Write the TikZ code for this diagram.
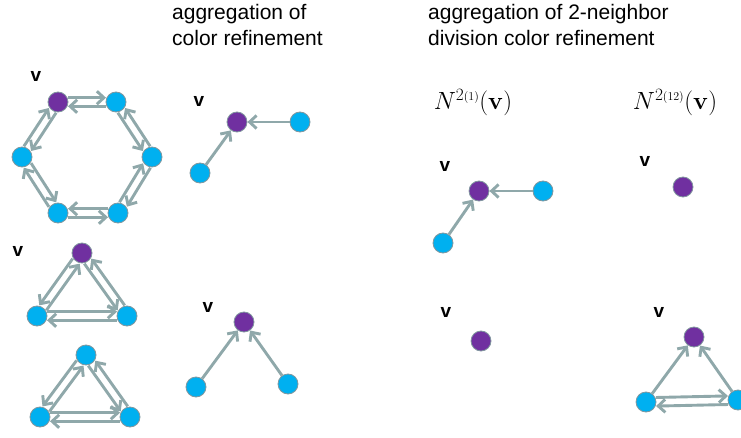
\documentclass[tikz,border=0pt]{standalone}
\usepackage[no-math]{fontspec}
\setmainfont{Liberation Sans}
\usepackage{tikz}
\usetikzlibrary{calc,arrows.meta}
\definecolor{NodeBlue}{RGB}{0,176,240}
\definecolor{NodePurple}{RGB}{112,48,160}
\definecolor{EdgeGray}{RGB}{143,168,170}
\definecolor{RimGray}{RGB}{128,150,158}
\tikzset{
  vert/.style={circle, minimum size=20pt, inner sep=0pt, draw=RimGray,
    line width=0.8pt, fill=NodeBlue},
  root/.style={vert, fill=NodePurple},
  arr/.style={draw=EdgeGray, line width=2.9pt,
    -{Straight Barb[length=7pt,width=13pt]}},
  pair/.style={arr, shorten >=10pt, shorten <=10pt},
  vlab/.style={font=\fontsize{19}{22}\selectfont\bfseries, inner sep=0pt},
  title/.style={font=\fontsize{21}{26}\selectfont, align=left,
    anchor=north west, inner sep=0pt},
  nlab/.style={font=\fontsize{23.5}{26}\selectfont, inner sep=0pt}
}
% #1 -> #2 on the side given by the sign of #3, #2 -> #1 beside it
\newcommand{\twoway}[3]{%
  \draw[pair] ($(#1)!#3!90:(#2)$) -- ($(#2)!#3!-90:(#1)$);
  \draw[pair] ($(#2)!#3!90:(#1)$) -- ($(#1)!#3!-90:(#2)$);
}

\begin{document}
\begin{tikzpicture}[x=1pt,y=1pt]
                \useasboundingbox (0,0) rectangle (741,437);
                \node[title] (t1) at (172,433) {aggregation of\\color refinement};
                \node[title] (t2) at (428,433)
                {aggregation of 2-neighbor\\division color refinement};
                % hexagon
                \node[root] (h1) at (58,335) {};
                \node[vert] (h2) at (116,335) {};
                \node[vert] (h3) at (152,280) {};
                \node[vert] (h4) at (118,224) {};
                \node[vert] (h5) at (58,224) {};
                \node[vert] (h6) at (22,280) {};
                \node[vlab] (hv) at (36,361) {v};
                \twoway{h1}{h2}{4.3pt}
                \twoway{h2}{h3}{-4.3pt}
                \twoway{h3}{h4}{4.3pt}
                \twoway{h4}{h5}{-4.3pt}
                \twoway{h6}{h5}{4.3pt}
                \twoway{h6}{h1}{4.3pt}
                % two triangles
                \node[root] (a1) at (82,184) {};
                \node[vert] (a2) at (37,121) {};
                \node[vert] (a3) at (127,121) {};
                \node[vlab] (av) at (18,186) {v};
                \twoway{a1}{a2}{-4.3pt}
                \twoway{a1}{a3}{-4.3pt}
                \twoway{a2}{a3}{4.3pt}
                \node[vert] (b1) at (86,82) {};
                \node[vert] (b2) at (40,20) {};
                \node[vert] (b3) at (130,20) {};
                \twoway{b1}{b2}{-4.3pt}
                \twoway{b1}{b3}{-4.3pt}
                \twoway{b2}{b3}{4.3pt}
                % aggregation of color refinement
                \node[root] (c1) at (237,315) {};
                \node[vert] (c2) at (300,315) {};
                \node[vert] (c3) at (200,264) {};
                \node[vlab] (cv) at (199,336) {v};
                \draw[arr] (c2) -- (c1);
                \draw[arr] (c3) -- (c1);
                \node[root] (d1) at (244,115) {};
                \node[vert] (d2) at (196,50) {};
                \node[vert] (d3) at (288,53) {};
                \node[vlab] (dv) at (208,130) {v};
                \draw[arr] (d2) -- (d1);
                \draw[arr] (d3) -- (d1);
                % 2-neighbor division
                \node[nlab] (n1) at (473,334) {$N^{2\scriptscriptstyle(1)}(\mathbf{v})$};
                \node[nlab] (n2) at (675,334) {$N^{2\scriptscriptstyle(12)}(\mathbf{v})$};
                \node[root] (e1) at (479,246) {};
                \node[vert] (e2) at (543,246) {};
                \node[vert] (e3) at (443,194) {};
                \node[vlab] (ev) at (445,271) {v};
                \draw[arr] (e2) -- (e1);
                \draw[arr] (e3) -- (e1);
                \node[root] (f1) at (683,250) {};
                \node[vlab] (fv) at (645,276) {v};
                \node[root] (g1) at (481,96) {};
                \node[vlab] (gv) at (446,125) {v};
                \node[root] (k1) at (694,100) {};
                \node[vert] (k2) at (646,35) {};
                \node[vert] (k3) at (738,37) {};
                \node[vlab] (kv) at (659,125) {v};
                \draw[arr] (k2) -- (k1);
                \draw[arr] (k3) -- (k1);
                \twoway{k2}{k3}{4.3pt}
\end{tikzpicture}
\end{document}
